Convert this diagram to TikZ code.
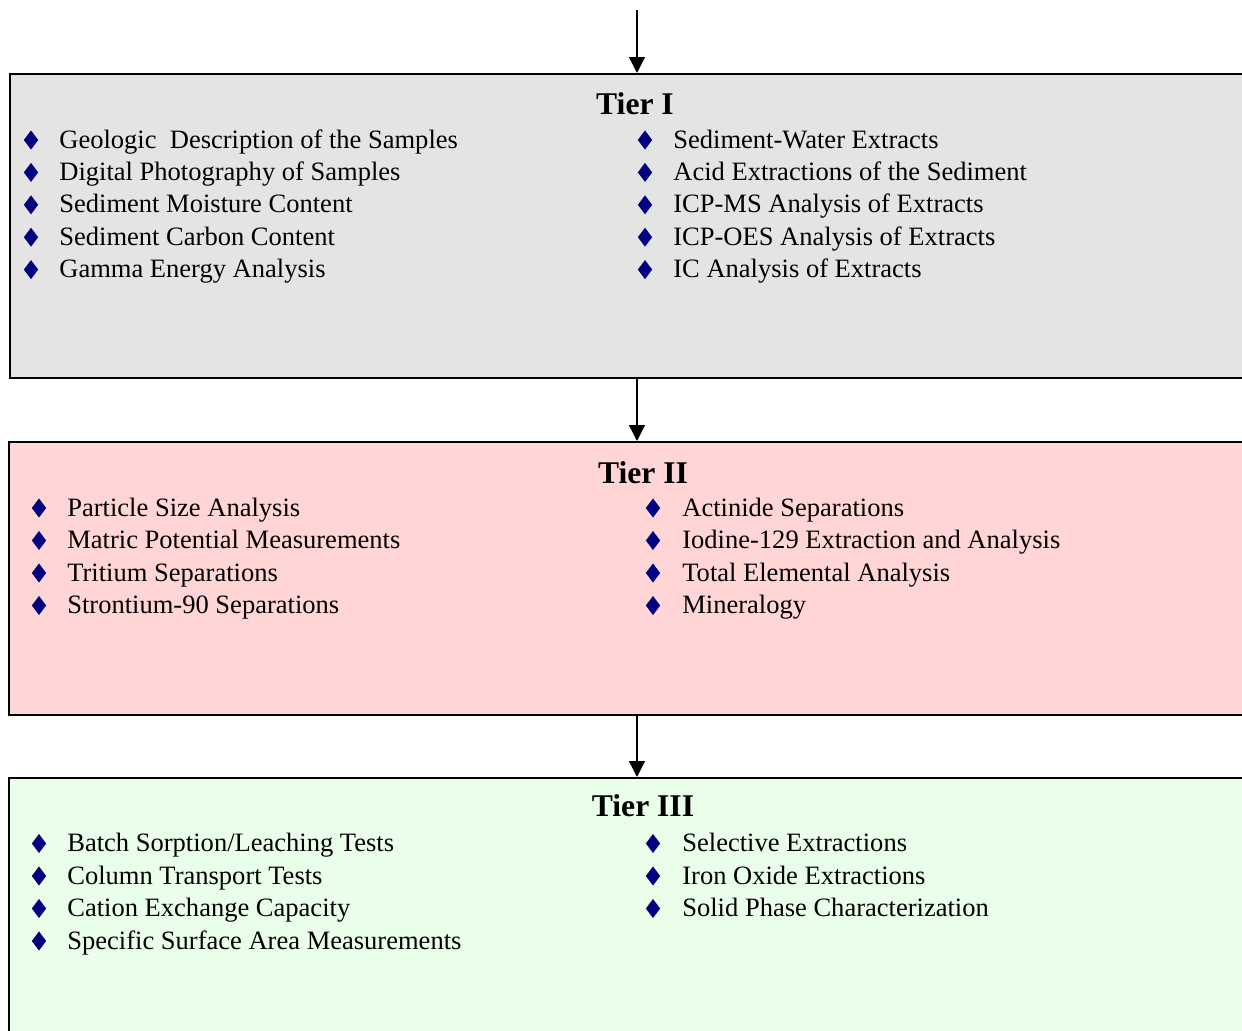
\documentclass[tikz,border=0pt]{standalone}
\usepackage{fontspec}
\setmainfont{Liberation Serif}
\usetikzlibrary{shapes.geometric,arrows.meta}

\definecolor{tiergray}{HTML}{E4E4E4}
\definecolor{tierpink}{HTML}{FFD5D5}
\definecolor{tiergreen}{HTML}{EAFFEA}
\definecolor{bulletblue}{HTML}{000080}

\tikzset{
  tierbox/.style={draw, line width=1.1pt, anchor=north west, inner sep=0pt},
  tiertitle/.style={anchor=base, font=\fontsize{18}{20}\selectfont\bfseries},
  item/.style={anchor=base west, inner sep=0pt, font=\fontsize{15.1}{17}\selectfont},
  bul/.style={diamond, fill=bulletblue, inner sep=0pt, minimum width=8.3, minimum height=11},
  flow/.style={-{Triangle[length=9,width=9]}, line width=0.75pt}
}

\begin{document}
\begin{tikzpicture}[x=0.02cm, y=-0.02cm]
\useasboundingbox (0,0) rectangle (1242,1031);
\clip (0,0) rectangle (1242,1031);

% the three tiers
\node[tierbox, fill=tiergray, minimum width=1256*0.02cm, minimum height=304*0.02cm] (t1) at (9,73) {};
\node[tierbox, fill=tierpink, minimum width=1258*0.02cm, minimum height=273*0.02cm] (t2) at (8,441) {};
\node[tierbox, fill=tiergreen, minimum width=1258*0.02cm, minimum height=300*0.02cm] (t3) at (8,777) {};

\node[tiertitle] (h1) at (635,114) {Tier I};
\node[tiertitle] (h2) at (643,483) {Tier II};
\node[tiertitle] (h3) at (643,816) {Tier III};

% Tier I
\foreach \txt [count=\i] in {Geologic\ \ Description of the Samples, Digital Photography of Samples,
    Sediment Moisture Content, Sediment Carbon Content, Gamma Energy Analysis}
  \node[bul] at (31,{148+32.4*(\i-1)-8}) {} node[item] (a\i) at (59,{148+32.4*(\i-1)}) {\txt};
\foreach \txt [count=\i] in {Sediment-Water Extracts, Acid Extractions of the Sediment,
    ICP-MS Analysis of Extracts, ICP-OES Analysis of Extracts, IC Analysis of Extracts}
  \node[bul] at (645,{148+32.4*(\i-1)-8}) {} node[item] (b\i) at (673,{148+32.4*(\i-1)}) {\txt};

% Tier II
\foreach \txt [count=\i] in {Particle Size Analysis, Matric Potential Measurements,
    Tritium Separations, Strontium-90 Separations}
  \node[bul] at (39,{516+32.5*(\i-1)-8}) {} node[item] (c\i) at (67,{516+32.5*(\i-1)}) {\txt};
\foreach \txt [count=\i] in {Actinide Separations, Iodine-129 Extraction and Analysis,
    Total Elemental Analysis, Mineralogy}
  \node[bul] at (653,{516+32.5*(\i-1)-8}) {} node[item] (d\i) at (682,{516+32.5*(\i-1)}) {\txt};

% Tier III
\foreach \txt [count=\i] in {Batch Sorption/Leaching Tests, Column Transport Tests,
    Cation Exchange Capacity, Specific Surface Area Measurements}
  \node[bul] at (39,{851.5+32.5*(\i-1)-8}) {} node[item] (e\i) at (67,{851.5+32.5*(\i-1)}) {\txt};
\foreach \txt [count=\i] in {Selective Extractions, Iron Oxide Extractions,
    Solid Phase Characterization}
  \node[bul] at (653,{851.5+32.5*(\i-1)-8}) {} node[item] (f\i) at (682,{851.5+32.5*(\i-1)}) {\txt};

% arrows
\coordinate (top) at (637,10);
\draw[flow] (top) -- (top |- t1.north);
\draw[flow] (top |- t1.south) -- (top |- t2.north);
\draw[flow] (top |- t2.south) -- (top |- t3.north);
\end{tikzpicture}
\end{document}
